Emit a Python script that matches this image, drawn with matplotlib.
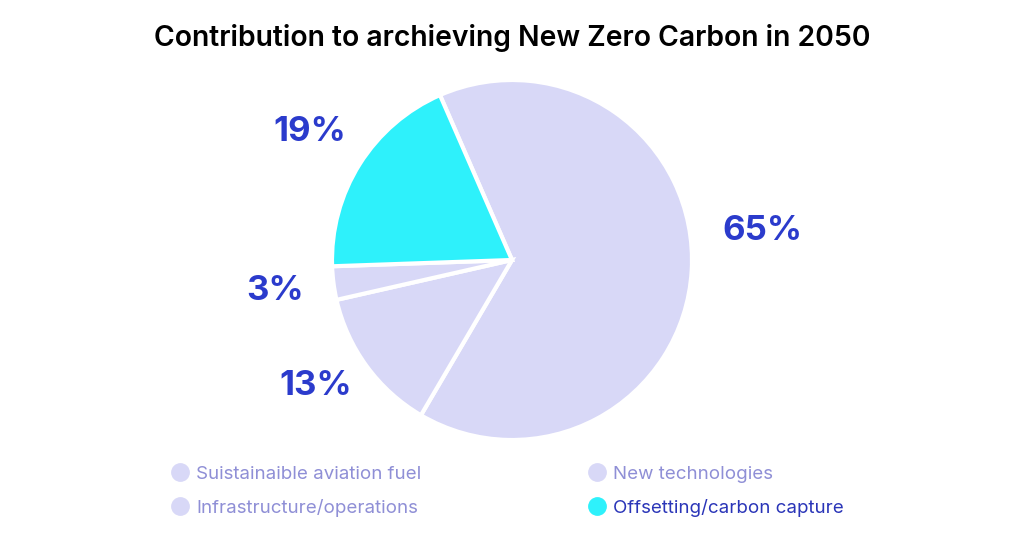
import matplotlib
matplotlib.use("Agg")
import matplotlib.pyplot as plt
from matplotlib.lines import Line2D

# --------------------------------------------------------------------------- #
# Data
# --------------------------------------------------------------------------- #
categories = ["Suistainaible aviation fuel", "New technologies",
              "Infrastructure/operations", "Offsetting/carbon capture"]
shares = [65, 13, 3, 19]
colors = ["#d8d8f7", "#d8d8f7", "#d8d8f7", "#2ef1fb"]
legend_text_colors = ["#8f8fd6", "#8f8fd6", "#8f8fd6", "#2a35b8"]

LABEL_BLUE = "#2b3bcc"
plt.rcParams["font.family"] = ["Inter", "DejaVu Sans"]

fig = plt.figure(figsize=(10.24, 5.38), dpi=100)
W, H = 1024, 538
cx, cy, r = 512, 260, 180
ax = fig.add_axes([(cx - r) / W, (H - cy - r) / H, 2 * r / W, 2 * r / H])

wedges, texts, autotexts = ax.pie(
    shares, colors=colors, startangle=113.6, counterclock=False,
    autopct="%d%%", pctdistance=1.33,
    wedgeprops=dict(edgecolor="white", linewidth=3),
    textprops=dict(color=LABEL_BLUE, fontsize=25, fontweight="bold"),
)
ax.set_aspect("equal")
ax.set_xlim(-1, 1)
ax.set_ylim(-1, 1)
# nudge a couple of labels to where the original has them
autotexts[0].set_position((1.39, 0.16))
autotexts[1].set_position((-1.09, -0.70))

fig.text(0.5, 1 - 38 / H, "Contribution to archieving New Zero Carbon in 2050",
         ha="center", va="center", fontsize=20.4, fontweight="semibold", color="black")

handles = [Line2D([0], [0], marker="o", linestyle="", markersize=12.5,
                  markerfacecolor=c, markeredgecolor=c) for c in colors]
# column-first order: SAF, Infrastructure | New tech, Offsetting
order = [0, 2, 1, 3]
leg = fig.legend([handles[i] for i in order], [categories[i] for i in order],
                 ncol=2, loc="upper left", bbox_to_anchor=(154 / W, 1 - 449 / H),
                 frameon=False, fontsize=13.5, handletextpad=0.36,
                 columnspacing=8.85, labelspacing=0.85, handlelength=1.0)
for t, i in zip(leg.get_texts(), order):
    t.set_color(legend_text_colors[i])

fig.savefig("out.png", dpi=100)
